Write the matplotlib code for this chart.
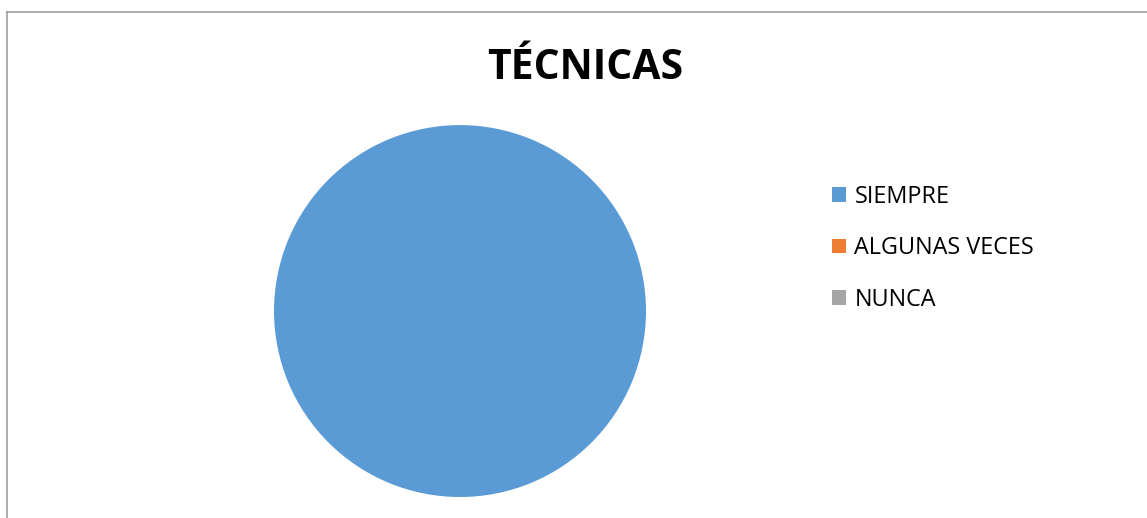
import matplotlib
matplotlib.use("Agg")
import matplotlib.pyplot as plt
from matplotlib.lines import Line2D

# data
categories = ["SIEMPRE", "ALGUNAS VECES", "NUNCA"]
values = [100, 0, 0]
colors = ["#5B9BD5", "#ED7D31", "#A5A5A5"]
title = "TÉCNICAS"

plt.rcParams["font.family"] = ["Open Sans", "DejaVu Sans"]

fig = plt.figure(figsize=(11.47, 5.18), dpi=100)

# pie area
ax = fig.add_axes([0.2389, 0.0405, 0.3243, 0.718])
wedges, _ = ax.pie(values, colors=colors, startangle=90, counterclock=False,
                   radius=1.0, wedgeprops={"linewidth": 0})
ax.set_xlim(-1, 1)
ax.set_ylim(-1, 1)
ax.set_aspect("auto")
ax.axis("off")

fig.text(0.51, 0.868, title, ha="center", va="center",
         fontsize=29.4, fontweight="bold", color="#000000")

leg = fig.legend(wedges, categories, loc="upper left",
                 bbox_to_anchor=(0.7154, 0.666), frameon=False,
                 fontsize=16.8, handlelength=0.6, handleheight=0.6,
                 handletextpad=0.35, labelspacing=1.18, borderpad=0)

# chart border (top and left, bottom/right clipped)
fig.add_artist(Line2D([0.0065, 1.0], [0.9759, 0.9759], color="#A0A0A0",
                      linewidth=1.2, transform=fig.transFigure))
fig.add_artist(Line2D([0.0065, 0.0065], [0.0, 0.9759], color="#A0A0A0",
                      linewidth=1.2, transform=fig.transFigure))

fig.savefig("out.png", dpi=100, facecolor="white")
